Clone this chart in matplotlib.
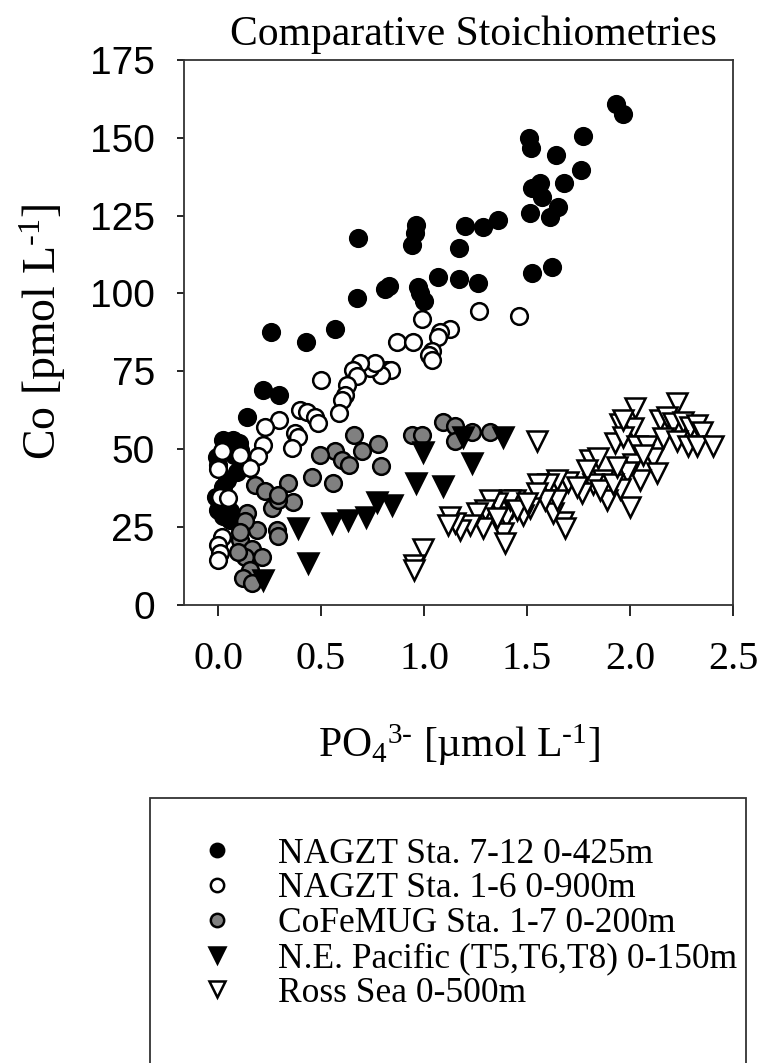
import matplotlib
matplotlib.use("Agg")
import matplotlib.pyplot as plt
from matplotlib.patches import Rectangle

# NAGZT Sta. 7-12 0-425m (filled black circles)
nag_deep_x = [1.93, 1.964, 1.77, 1.511, 1.519, 1.641, 1.76, 1.681, 1.563, 1.522,
              1.571, 1.652, 1.611, 1.514, 1.361, 1.288, 1.199, 1.17, 0.961, 0.956,
              0.94, 0.681, 0.832, 0.81, 0.972, 0.98, 0.999, 1.069, 1.171, 1.26,
              1.523, 1.62, 0.673, 0.257, 0.427, 0.568, 0.217, 0.298, 0.139, 0.026,
              0.074, 0.107, -0.006, 0.091, 0.026, 0.002, 0.026, 0.058, -0.01, 0.042,
              0.0, 0.05, 0.08, 0.03, 0.06, 0.1]
nag_deep_y = [160.9, 157.7, 150.6, 149.9, 146.7, 144.5, 139.7, 135.6, 135.6, 133.8,
              130.9, 127.7, 124.7, 125.8, 123.6, 121.4, 121.6, 114.5, 122.0, 119.3,
              115.6, 117.7, 102.4, 101.3, 102.2, 100.1, 97.7, 105.4, 104.5, 103.4,
              106.5, 108.6, 98.4, 87.5, 84.5, 88.5, 68.8, 67.4, 60.4, 52.9,
              52.9, 49.7, 47.5, 42.7, 37.9, 30.4, 28.3, 27.2, 34.6, 40.0,
              45.0, 50.0, 48.0, 33.0, 30.0, 52.0]

# NAGZT Sta. 1-6 0-900m (open circles)
nag_open_x = [1.268, 1.462, 0.992, 1.126, 1.078, 1.07, 0.867, 0.948, 1.037, 1.026,
              1.037, 0.819, 0.84, 0.79, 0.738, 0.76, 0.689, 0.657, 0.673, 0.625,
              0.617, 0.6, 0.589, 0.499, 0.398, 0.43, 0.47, 0.487, 0.298, 0.228,
              0.374, 0.39, 0.357, 0.22, 0.195, 0.155, 0.107, 0.018, 0.002, 0.01,
              0.05, 0.018, 0.002, 0.01, 0.002]
nag_open_y = [94.5, 92.6, 91.7, 88.6, 87.6, 86.0, 84.5, 84.5, 81.4, 80.2,
              78.6, 75.4, 75.4, 73.8, 76.0, 77.5, 77.5, 75.4, 73.3, 70.6,
              67.4, 65.8, 61.5, 72.2, 62.5, 62.0, 60.4, 58.3, 59.3, 57.2,
              55.0, 54.0, 50.2, 51.3, 47.7, 44.0, 48.1, 49.2, 43.4, 34.7,
              34.2, 21.8, 19.2, 16.5, 14.4]

# CoFeMUG Sta. 1-7 0-200m (grey circles)
cofe_x = [1.094, 1.15, 1.232, 1.32, 1.15, 0.94, 0.99, 0.66, 0.778, 0.70,
          0.568, 0.495, 0.6, 0.637, 0.79, 0.455, 0.56, 0.341, 0.366, 0.26,
          0.29, 0.18, 0.228, 0.285, 0.293, 0.188, 0.18, 0.293, 0.139, 0.131,
          0.107, 0.163, 0.131, 0.212, 0.155, 0.123, 0.163, 0.099, 0.107]
cofe_y = [58.8, 57.4, 55.6, 55.6, 52.4, 54.5, 54.5, 54.5, 51.5, 49.2,
          49.2, 48.2, 46.5, 44.7, 44.4, 41.1, 39.2, 39.2, 33.0, 30.9,
          33.5, 38.5, 36.4, 24.0, 22.0, 24.0, 15.4, 35.3, 29.3, 26.7,
          20.6, 17.9, 15.2, 15.2, 11.1, 8.4, 6.8, 16.8, 23.4]

# N.E. Pacific (T5,T6,T8) 0-150m (filled triangles)
nep_x = [0.39, 0.438, 0.552, 0.63, 0.718, 0.77, 0.843, 0.961, 1.09, 0.997,
         1.232, 1.19, 1.382, 0.22]
nep_y = [24.5, 13.2, 26.1, 27.2, 28.2, 33.1, 32.0, 39.0, 38.0, 49.1,
         45.6, 54.0, 53.8, 7.9]

# Ross Sea 0-500m (open triangles)
ross_x = [2.024, 2.227, 1.547, 1.951, 2.016, 1.927, 1.968, 2.033, 2.08, 2.146,
          2.178, 2.21, 2.259, 2.29, 2.324, 2.348, 2.162, 2.227, 2.283, 2.324,
          2.404, 2.113, 2.129, 2.048, 2.0, 2.016, 2.064, 1.984, 1.951, 1.887,
          1.871, 1.822, 1.806, 1.846, 1.79, 1.765, 1.7, 1.644, 1.603, 1.555,
          1.676, 1.684, 1.627, 1.644, 1.587, 1.547, 1.515, 1.482, 1.441, 1.425,
          1.4, 1.385, 1.393, 1.417, 1.353, 1.32, 1.296, 1.288, 1.256, 1.223,
          1.175, 1.15, 1.126, 1.118, 1.353, 1.449, 1.498, 1.741, 1.854, 1.919,
          1.935, 1.968, 0.994, 0.95, 0.95]
ross_y = [63.1, 64.7, 52.7, 58.0, 56.6, 51.8, 54.0, 50.8, 50.8, 59.3,
          60.4, 58.3, 58.8, 57.2, 57.7, 55.5, 53.5, 52.4, 50.8, 50.8,
          50.8, 47.0, 42.2, 40.0, 31.4, 45.3, 48.0, 42.5, 37.2, 33.6,
          40.0, 38.9, 46.5, 47.0, 43.3, 35.7, 39.3, 39.9, 38.8, 38.8,
          26.6, 24.6, 29.3, 33.6, 33.6, 35.7, 30.9, 28.8, 33.6, 31.5,
          28.2, 22.9, 19.7, 33.6, 32.5, 33.6, 30.4, 24.5, 29.3, 25.6,
          24.0, 26.1, 28.2, 25.6, 27.7, 30.4, 32.5, 37.8, 36.7, 38.8,
          44.2, 59.3, 18.0, 12.7, 11.1]

labels = ["NAGZT Sta. 7-12 0-425m", "NAGZT Sta. 1-6 0-900m", "CoFeMUG Sta. 1-7 0-200m",
          "N.E. Pacific (T5,T6,T8) 0-150m", "Ross Sea 0-500m"]

serif = "Liberation Serif"
plt.rcParams["mathtext.fontset"] = "custom"
plt.rcParams["mathtext.rm"] = serif
plt.rcParams["mathtext.it"] = serif + ":italic"

fig = plt.figure(figsize=(7.62, 10.63), dpi=100)
ax = fig.add_axes([0.2415, 0.4313, 0.7205, 0.5122])

mew = 1.8
h1, = ax.plot(nag_deep_x, nag_deep_y, "o", ms=12, mfc="black", mec="black", mew=mew)
h2, = ax.plot(nag_open_x, nag_open_y, "o", ms=12, mfc="white", mec="black", mew=mew)
h3, = ax.plot(cofe_x, cofe_y, "o", ms=12, mfc="#808080", mec="black", mew=mew)
h4, = ax.plot(nep_x, nep_y, "v", ms=14, mfc="black", mec="black", mew=mew)
h5, = ax.plot(ross_x, ross_y, "v", ms=14, mfc="white", mec="black", mew=mew)

ax.set_xlim(-0.165, 2.5)
ax.set_ylim(0, 175)
ax.set_xticks([0.0, 0.5, 1.0, 1.5, 2.0, 2.5])
ax.set_xticklabels(["0.0", "0.5", "1.0", "1.5", "2.0", "2.5"], fontfamily=serif, fontsize=29)
ax.set_yticks([0, 25, 50, 75, 100, 125, 150, 175])
ax.set_yticklabels(["0", "25", "50", "75", "100", "125", "150", "175"],
                   fontfamily="Liberation Sans", fontsize=28)
ax.tick_params(axis="x", direction="out", length=8, width=1.2, pad=18)
ax.tick_params(axis="y", direction="out", length=5, width=1.2, pad=16)
for s in ax.spines.values():
    s.set_linewidth(1.3)
    s.set_color("#333333")

ax.set_xlabel("PO$_\\mathregular{4}$$^\\mathregular{3\u2010}$ [\u00b5mol L$^\\mathregular{\u20101}$]",
              fontfamily=serif, fontsize=30, labelpad=32)
ax.set_ylabel("Co [pmol L$^\\mathregular{\u20101}$]", fontfamily=serif, fontsize=33, labelpad=16)
fig.text(473 / 762, 1 - 35 / 1063, "Comparative Stoichiometries", fontfamily=serif,
         fontsize=30, ha="center", va="center")

# legend box runs off the bottom of the figure
fig.add_artist(Rectangle((150 / 762, -0.05), (746 - 150) / 762, (1063 - 798) / 1063 + 0.05,
                         transform=fig.transFigure, fill=False, lw=1.3, ec="#333333"))
leg = fig.legend([h1, h2, h3, h4, h5], labels, loc="upper left",
                 bbox_to_anchor=(182 / 762, 1 - 820 / 1063), frameon=False,
                 prop={"family": serif, "size": 25.5}, markerscale=0.8,
                 handlelength=1.0, handletextpad=1.2, labelspacing=0.05, borderpad=0)

fig.savefig("out.png", dpi=100)
